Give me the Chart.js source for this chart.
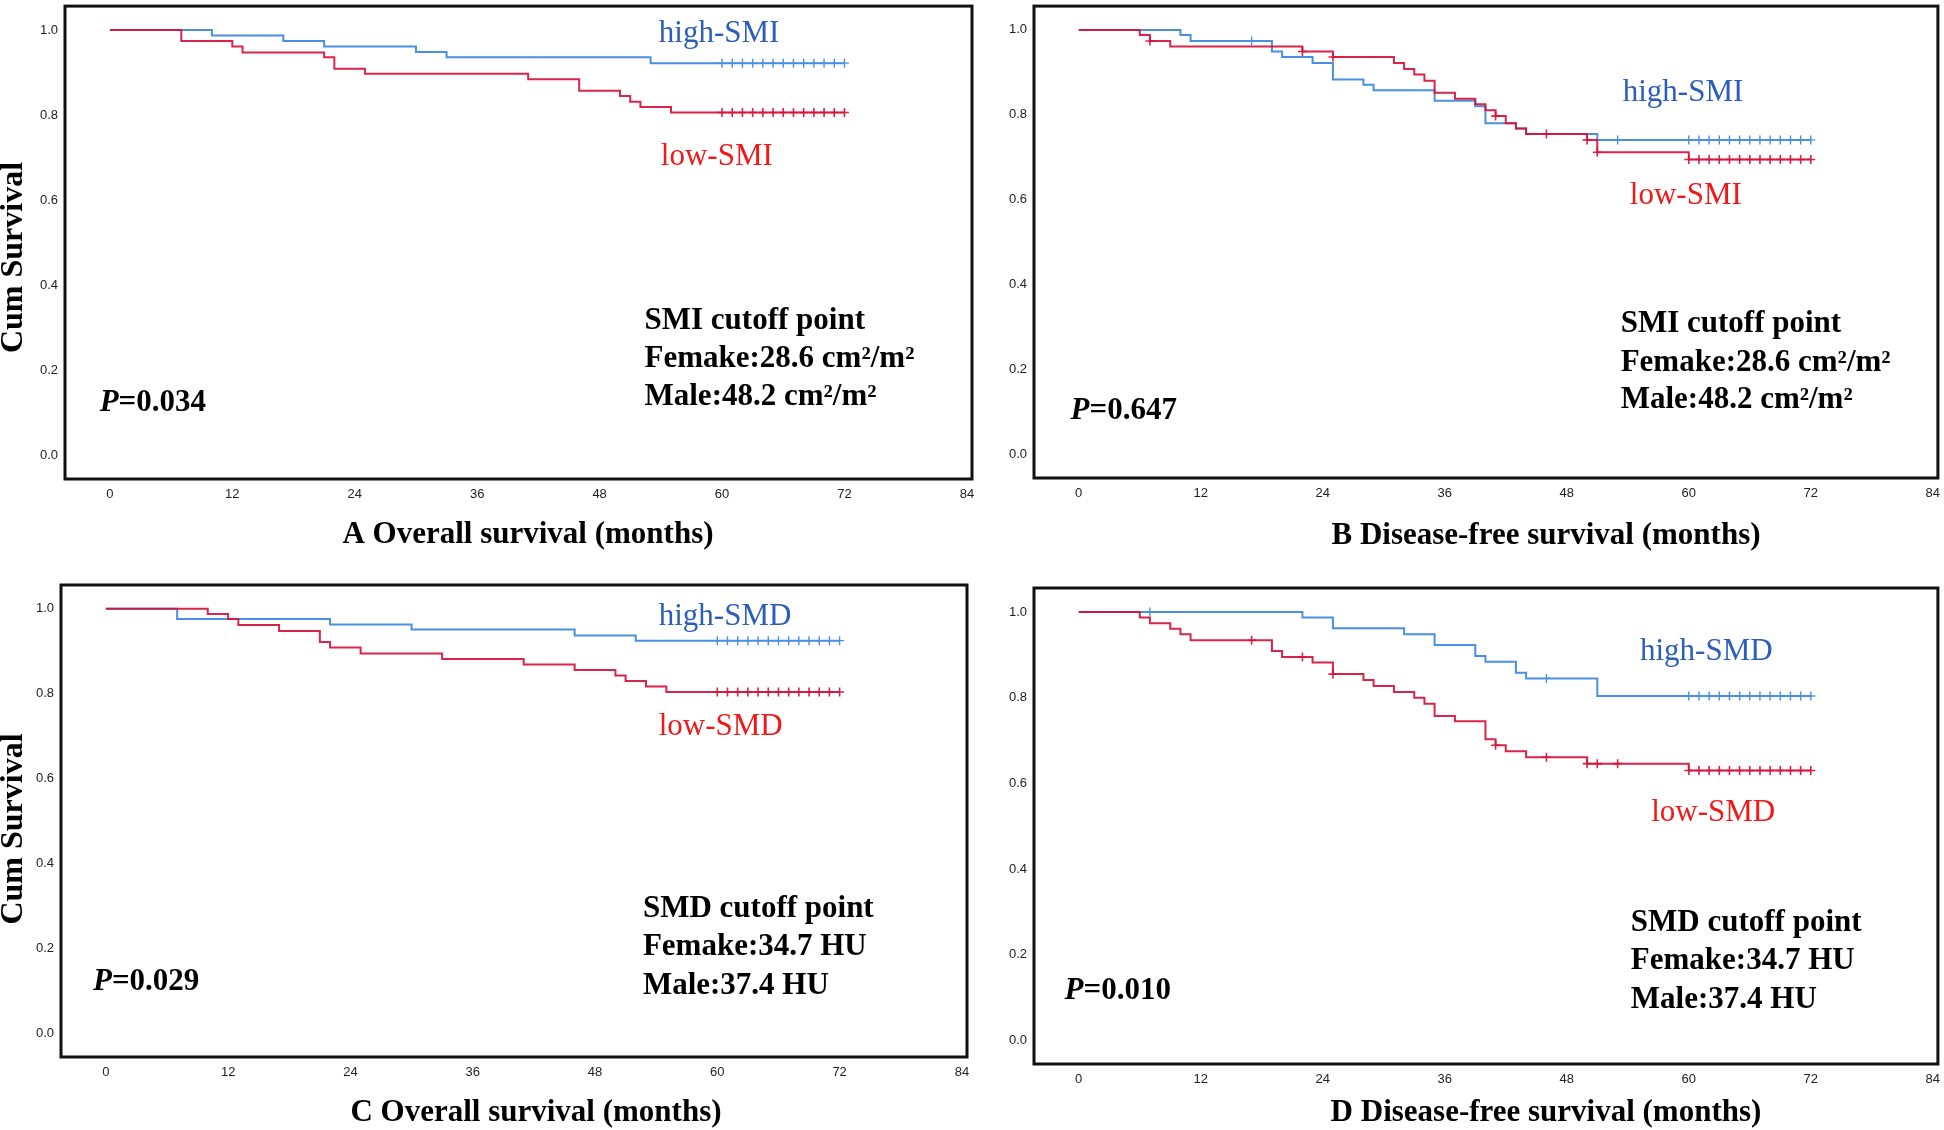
<!DOCTYPE html>
<html>
<head>
<meta charset="utf-8">
<script src="https://cdn.jsdelivr.net/npm/chart.js@4.4.1/dist/chart.umd.min.js"></script>
<style>
  html, body { margin: 0; padding: 0; background: #fff; }
  body { width: 1944px; height: 1130px; position: relative; overflow: hidden; }
  canvas { position: absolute; }
</style>
</head>
<body>
<canvas id="panelA" width="1000" height="565" style="left:0;top:0"></canvas>
<canvas id="panelB" width="954" height="565" style="left:990px;top:0"></canvas>
<canvas id="panelC" width="1000" height="565" style="left:0;top:565px"></canvas>
<canvas id="panelD" width="954" height="565" style="left:990px;top:565px"></canvas>
<script>
// axis ticks
var monthTicks = [0, 12, 24, 36, 48, 60, 72, 84];
var survTicks = [0, 0.2, 0.4, 0.6, 0.8, 1.0];

// censored at end of follow-up (one per month)
var lateCens = [60, 61, 62, 63, 64, 65, 66, 67, 68, 69, 70, 71, 72];

// A: overall survival by SMI
var osSmiHighT = [0, 10, 17, 21, 30, 33, 53, 72];
var osSmiHighS = [1, 0.987, 0.974, 0.961, 0.948, 0.936, 0.922, 0.922];
var osSmiHighCens = lateCens;
var osSmiLowT = [0, 7, 12, 13, 21, 22, 25, 41, 46, 50, 51, 52, 55, 72];
var osSmiLowS = [1, 0.974, 0.961, 0.947, 0.936, 0.909, 0.897, 0.884, 0.857, 0.845, 0.831, 0.819, 0.806, 0.806];
var osSmiLowCens = lateCens;

// B: disease-free survival by SMI
var dfsSmiHighT = [0, 10, 11, 19, 20, 23, 25, 28, 29, 35, 39, 40, 43, 44, 51, 72];
var dfsSmiHighS = [1, 0.988, 0.974, 0.949, 0.936, 0.922, 0.883, 0.871, 0.858, 0.833, 0.820, 0.780, 0.768, 0.755, 0.741, 0.741];
var dfsSmiHighCens = [17, 53].concat(lateCens);
var dfsSmiLowT = [0, 6, 7, 9, 22, 25, 31, 32, 33, 34, 35, 37, 39, 40, 41, 42, 43, 44, 50, 51, 60, 72];
var dfsSmiLowS = [1, 0.988, 0.974, 0.961, 0.949, 0.936, 0.922, 0.908, 0.895, 0.880, 0.852, 0.838, 0.825, 0.811, 0.797, 0.780, 0.768, 0.755, 0.741, 0.712, 0.695, 0.695];
var dfsSmiLowCens = [7, 22, 25, 41, 46, 50, 51].concat(lateCens);

// C: overall survival by SMD
var osSmdHighT = [0, 7, 22, 30, 46, 52, 72];
var osSmdHighS = [1, 0.976, 0.963, 0.951, 0.937, 0.925, 0.925];
var osSmdHighCens = lateCens;
var osSmdLowT = [0, 10, 12, 13, 17, 21, 22, 25, 33, 41, 46, 50, 51, 53, 55, 72];
var osSmdLowS = [1, 0.988, 0.976, 0.962, 0.948, 0.922, 0.909, 0.895, 0.882, 0.869, 0.856, 0.843, 0.830, 0.817, 0.804, 0.804];
var osSmdLowCens = lateCens;

// D: disease-free survival by SMD
var dfsSmdHighT = [0, 22, 25, 32, 35, 39, 40, 43, 44, 51, 72];
var dfsSmdHighS = [1, 0.987, 0.962, 0.948, 0.923, 0.897, 0.884, 0.858, 0.845, 0.804, 0.804];
var dfsSmdHighCens = [7, 46].concat(lateCens);
var dfsSmdLowT = [0, 6, 7, 9, 10, 11, 19, 20, 23, 25, 28, 29, 31, 33, 34, 35, 37, 40, 41, 42, 44, 50, 60, 72];
var dfsSmdLowS = [1, 0.987, 0.974, 0.961, 0.948, 0.934, 0.909, 0.895, 0.882, 0.855, 0.841, 0.827, 0.813, 0.800, 0.786, 0.757, 0.745, 0.703, 0.689, 0.675, 0.661, 0.646, 0.630, 0.630];
var dfsSmdLowCens = [17, 22, 25, 41, 46, 50, 51, 53].concat(lateCens);

var BLUE_LINE = '#4a90e2';
var RED_LINE = 'rgba(214, 18, 58, 0.92)';
var BLUE_TEXT = '#2c5dbb';
var RED_TEXT = '#f01818';
var SERIF = '"Liberation Serif", "Times New Roman", serif';
var BOLD = 'bold 31px ' + SERIF;

function curve(t, s) {
  return t.map(function (x, i) { return {x: x, y: s[i]}; });
}
// value of the step curve at a censoring time
function stepAt(t, s, x) {
  var v = s[0];
  for (var i = 0; i < t.length; i++) if (t[i] <= x) v = s[i];
  return v;
}
function marks(t, s, cens) {
  return cens.map(function (x) { return {x: x, y: stepAt(t, s, x)}; });
}

var textPlugin = {
  id: 'panelText',
  afterDraw: function (chart) {
    var o = chart.options.plugins.panelText;
    var ctx = chart.ctx, a = chart.chartArea;
    var xs = chart.scales.x, ys = chart.scales.y;
    ctx.save();
    // frame
    ctx.strokeStyle = '#111';
    ctx.lineWidth = 3;
    ctx.strokeRect(a.left, a.top, a.right - a.left, a.bottom - a.top);
    ctx.textBaseline = 'alphabetic';
    ctx.textAlign = 'left';
    o.notes.forEach(function (n) {
      var x = xs.getPixelForValue(n.x), y = ys.getPixelForValue(n.y);
      n.parts.forEach(function (p) {
        ctx.font = p.font;
        ctx.fillStyle = n.color || '#000';
        ctx.fillText(p.t, x, y);
        x += ctx.measureText(p.t).width;
      });
    });
    // x title
    ctx.font = BOLD;
    ctx.fillStyle = '#000';
    ctx.textAlign = 'center';
    ctx.fillText(o.xTitle, a.left + o.xTitleDX, a.bottom + o.xTitleDY);
    // y title
    if (o.yTitle) {
      ctx.font = 'bold 32px ' + SERIF;
      ctx.translate(o.yTitleX, (a.top + a.bottom) / 2 + o.yTitleDY);
      ctx.rotate(-Math.PI / 2);
      ctx.textBaseline = 'middle';
      ctx.fillText(o.yTitle, 0, 0);
    }
    ctx.restore();
  }
};

function plain(t) { return {t: t, font: '31px ' + SERIF}; }
function bold(t) { return {t: t, font: BOLD}; }
function pValue(v) { return [{t: 'P', font: 'italic bold 31px ' + SERIF}, bold('=' + v)]; }

function makePanel(id, p) {
  var datasets = [
    {data: curve(p.lowT, p.lowS), borderColor: RED_LINE, order: 0},
    {data: curve(p.highT, p.highS), borderColor: BLUE_LINE, order: 1},
    {data: marks(p.lowT, p.lowS, p.lowCens), borderColor: RED_LINE, showLine: false,
      pointStyle: 'cross', pointRadius: 4.5, pointBorderWidth: 1.6, order: 0},
    {data: marks(p.highT, p.highS, p.highCens), borderColor: BLUE_LINE, showLine: false,
      pointStyle: 'cross', pointRadius: 4.5, pointBorderWidth: 1.4, order: 1}
  ];
  datasets.forEach(function (d, i) {
    if (i < 2) {
      d.stepped = 'before';
      d.borderWidth = 2;
      d.pointRadius = 0;
      d.fill = false;
    }
  });
  return new Chart(document.getElementById(id), {
    type: 'line',
    data: {datasets: datasets},
    options: {
      responsive: false,
      animation: false,
      layout: {padding: p.pad},
      scales: {
        x: {
          type: 'linear', min: -4.4, max: 84.5,
          grid: {display: false, drawTicks: false}, border: {display: false},
          afterBuildTicks: function (s) { s.ticks = monthTicks.map(function (v) { return {value: v}; }); },
          afterFit: function (s) { s.height = p.xH; s.paddingLeft = 0; s.paddingRight = 0; },
          ticks: {padding: 8, color: '#222', maxRotation: 0, font: {family: '"Liberation Sans", Arial, sans-serif', size: 13},
            callback: function (v) { return String(v); }}
        },
        y: {
          type: 'linear', min: -0.055, max: 1.056,
          grid: {display: false, drawTicks: false}, border: {display: false},
          afterBuildTicks: function (s) { s.ticks = survTicks.map(function (v) { return {value: v}; }); },
          afterFit: function (s) { s.width = p.yW; s.paddingTop = 0; s.paddingBottom = 0; },
          ticks: {padding: 7, color: '#222', font: {family: '"Liberation Sans", Arial, sans-serif', size: 13},
            callback: function (v) { return v.toFixed(1); }}
        }
      },
      plugins: {
        legend: {display: false},
        tooltip: {enabled: false},
        panelText: {
          notes: p.notes, xTitle: p.xTitle, xTitleDX: p.xTitleDX, xTitleDY: p.xTitleDY,
          yTitle: p.yTitle, yTitleX: 14, yTitleDY: p.yTitleDY
        }
      }
    },
    plugins: [textPlugin]
  });
}

makePanel('panelA', {
  highT: osSmiHighT, highS: osSmiHighS, highCens: osSmiHighCens,
  lowT: osSmiLowT, lowS: osSmiLowS, lowCens: osSmiLowCens,
  pad: {left: 0, top: 3, right: 28, bottom: 0}, yW: 65, xH: 86,
  xTitle: 'A Overall survival (months)', xTitleDX: 463, xTitleDY: 64,
  yTitle: 'Cum Survival', yTitleDY: 15,
  notes: [
    {x: 53.8, y: 0.972, color: BLUE_TEXT, parts: [plain('high-SMI')]},
    {x: 54.0, y: 0.683, color: RED_TEXT, parts: [plain('low-SMI')]},
    {x: 52.4, y: 0.298, parts: [bold('SMI cutoff point')]},
    {x: 52.4, y: 0.209, parts: [bold('Femake:28.6 cm\u00b2/m\u00b2')]},
    {x: 52.4, y: 0.118, parts: [bold('Male:48.2 cm\u00b2/m\u00b2')]},
    {x: -1.0, y: 0.105, parts: pValue('0.034')}
  ]
});

makePanel('panelB', {
  highT: dfsSmiHighT, highS: dfsSmiHighS, highCens: dfsSmiHighCens,
  lowT: dfsSmiLowT, lowS: dfsSmiLowS, lowCens: dfsSmiLowCens,
  pad: {left: 0, top: 2, right: 3, bottom: 0}, yW: 44, xH: 87,
  xTitle: 'B Disease-free survival (months)', xTitleDX: 512, xTitleDY: 66,
  notes: [
    {x: 53.5, y: 0.833, color: BLUE_TEXT, parts: [plain('high-SMI')]},
    {x: 54.2, y: 0.589, color: RED_TEXT, parts: [plain('low-SMI')]},
    {x: 53.3, y: 0.288, parts: [bold('SMI cutoff point')]},
    {x: 53.3, y: 0.198, parts: [bold('Femake:28.6 cm\u00b2/m\u00b2')]},
    {x: 53.3, y: 0.109, parts: [bold('Male:48.2 cm\u00b2/m\u00b2')]},
    {x: -0.8, y: 0.083, parts: pValue('0.647')}
  ]
});

makePanel('panelC', {
  highT: osSmdHighT, highS: osSmdHighS, highCens: osSmdHighCens,
  lowT: osSmdLowT, lowS: osSmdLowS, lowCens: osSmdLowCens,
  pad: {left: 0, top: 20, right: 33, bottom: 0}, yW: 61, xH: 73,
  xTitle: 'C Overall survival (months)', xTitleDX: 475, xTitleDY: 64,
  yTitle: 'Cum Survival', yTitleDY: 8,
  notes: [
    {x: 54.25, y: 0.961, color: BLUE_TEXT, parts: [plain('high-SMD')]},
    {x: 54.25, y: 0.703, color: RED_TEXT, parts: [plain('low-SMD')]},
    {x: 52.7, y: 0.274, parts: [bold('SMD cutoff point')]},
    {x: 52.7, y: 0.185, parts: [bold('Femake:34.7 HU')]},
    {x: 52.7, y: 0.093, parts: [bold('Male:37.4 HU')]},
    {x: -1.26, y: 0.103, parts: pValue('0.029')}
  ]
});

makePanel('panelD', {
  highT: dfsSmdHighT, highS: dfsSmdHighS, highCens: dfsSmdHighCens,
  lowT: dfsSmdLowT, lowS: dfsSmdLowS, lowCens: dfsSmdLowCens,
  pad: {left: 0, top: 23, right: 3, bottom: 0}, yW: 44, xH: 66,
  xTitle: 'D Disease-free survival (months)', xTitleDX: 512, xTitleDY: 57,
  notes: [
    {x: 55.2, y: 0.888, color: BLUE_TEXT, parts: [plain('high-SMD')]},
    {x: 56.3, y: 0.512, color: RED_TEXT, parts: [plain('low-SMD')]},
    {x: 54.3, y: 0.256, parts: [bold('SMD cutoff point')]},
    {x: 54.3, y: 0.167, parts: [bold('Femake:34.7 HU')]},
    {x: 54.3, y: 0.076, parts: [bold('Male:37.4 HU')]},
    {x: -1.39, y: 0.097, parts: pValue('0.010')}
  ]
});
</script>
</body>
</html>
